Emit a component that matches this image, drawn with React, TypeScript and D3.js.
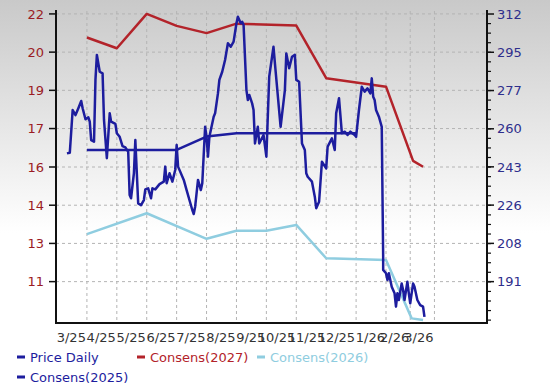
import React from "react";
import * as d3 from "d3";

const W = 550;
const H = 388;
const M = { left: 56, right: 487, top: 11, bottom: 323 };

// x axis: trading-day index (0 = first price point)
const xTickDays = [14, 35, 56, 77, 98, 119, 140, 161, 182, 203, 224, 241, 258];
const xTickLabels = ["3/25", "4/25", "5/25", "6/25", "7/25", "8/25", "9/25", "10/25", "11/25", "12/25", "1/26", "2/26", "3/26"];

// left axis (consensus EPS) and right axis (price)
const leftTicks = [22, 20.43, 18.86, 17.29, 15.71, 14.14, 12.57, 11];
const rightTicks = [312, 294.7, 277.4, 260.1, 242.9, 225.6, 208.3, 191];

const priceDays = [
  0, 2, 4, 6, 8, 10, 11, 13, 15, 16, 17, 19, 20, 21, 23, 25, 26, 28, 30, 31,
  34, 35, 37, 39, 41, 43, 44, 45, 47, 48, 50, 52, 54, 55, 57, 59, 60, 62, 65, 68,
  69, 70, 72, 74, 76, 77, 78, 82, 84, 88, 89, 90, 92, 94, 95, 97, 98, 99, 100, 103,
  104, 106, 107, 109, 111, 113, 115, 117, 119, 120, 122, 123, 124, 126, 127, 128, 130, 131, 132, 134,
  135, 138, 140, 142, 145, 146, 150, 153, 154, 156, 158, 160, 161, 163, 165, 167, 168, 169, 172, 174,
  175, 177, 179, 182, 183, 186, 188, 189, 191, 193, 195, 197, 199, 202, 203, 205, 207, 209, 211, 213,
  214, 215, 216, 217, 219, 220, 221, 222, 222, 224, 225, 226, 228, 230, 231, 232, 233, 235, 236, 237,
  239, 240, 241, 243, 244, 246, 248, 250, 251,
];
const priceValues = [
  249.0, 249.3, 268.6, 266.3, 269.4, 272.7, 269.4, 264.4, 265.3, 263.3, 255.0, 254.3, 282.2, 293.5, 285.9, 285.2, 264.1, 246.8, 267.1, 263.3,
  262.3, 258.1, 256.5, 252.3, 251.7, 249.7, 230.2, 228.7, 240.0, 255.0, 226.4, 225.6, 227.9, 232.7, 233.2, 228.7, 233.2, 232.7, 235.1, 236.2,
  243.0, 235.5, 240.0, 236.2, 241.5, 252.8, 243.0, 237.0, 232.4, 223.4, 221.6, 224.9, 237.0, 232.4, 235.5, 261.0, 256.5, 247.5, 256.5, 265.6,
  267.1, 276.1, 282.2, 285.9, 291.2, 298.8, 297.2, 299.5, 307.8, 310.8, 307.8, 308.5, 307.0, 277.6, 273.1, 275.4, 271.6, 268.6, 253.5, 261.0,
  253.5, 257.3, 247.5, 283.7, 297.2, 289.7, 261.0, 277.6, 294.2, 287.5, 292.7, 293.5, 282.2, 281.4, 253.5, 250.5, 240.0, 238.4, 236.2, 229.4,
  224.2, 227.1, 245.2, 242.2, 252.0, 255.8, 250.5, 267.1, 273.9, 258.1, 258.8, 257.3, 258.8, 257.3, 256.5, 268.6, 279.1, 276.9, 278.4, 276.1,
  282.9, 274.6, 273.1, 268.6, 265.6, 263.3, 261.0, 202.3, 196.3, 194.8, 191.7, 194.8, 188.7, 185.7, 179.7, 185.7, 182.7, 190.2, 187.2, 182.7,
  191.0, 185.7, 181.2, 190.2, 188.7, 182.7, 180.4, 179.7, 175.1,
];

const cons2027Days = [14, 35, 56, 77, 98, 119, 161, 182, 224, 243, 250];
const cons2027Values = [21.03, 20.59, 22.0, 21.51, 21.21, 21.6, 21.52, 19.36, 19.01, 15.96, 15.72];

const cons2026Days = [14, 56, 98, 119, 140, 161, 182, 224, 242, 250];
const cons2026Values = [12.95, 13.81, 12.76, 13.09, 13.09, 13.33, 11.96, 11.89, 9.49, 9.42];

const cons2025Days = [14, 77, 98, 119, 203];
const cons2025Values = [16.41, 16.41, 16.96, 17.1, 17.1];

const BLUE = "#1d1d9e";
const RED = "#b3232a";
const LIGHT = "#8fcde0";
const FONT = "DejaVu Sans";

type Pt = [number, number];
const zip = (a: number[], b: number[]): Pt[] => a.map((d, i) => [d, b[i]]);

export default function App() {
  const x = d3.scaleLinear().domain([-7.7, 294.9]).range([M.left, M.right]);
  const yL = d3.scaleLinear().domain([9.3, 22.12]).range([M.bottom, M.top]);
  const yR = d3.scaleLinear().domain([172.3, 313.36]).range([M.bottom, M.top]);

  const lineL = d3.line<Pt>().x((d) => x(d[0])).y((d) => yL(d[1]));
  const lineR = d3.line<Pt>().x((d) => x(d[0])).y((d) => yR(d[1]));

  const rStep = rightTicks[0] - rightTicks[1];
  const minor = d3.range(1, 40).map((i) => rightTicks[0] - (i * rStep) / 4).filter((v) => yR(v) < M.bottom - 1);
  const f0 = d3.format(".0f");

  const legend = [
    { label: "Price Daily", color: BLUE, lx: 17, ly: 357 },
    { label: "Consens(2027)", color: RED, lx: 137, ly: 357 },
    { label: "Consens(2026)", color: LIGHT, lx: 257, ly: 357 },
    { label: "Consens(2025)", color: BLUE, lx: 17, ly: 377 },
  ];

  return (
    <svg width={W} height={H} style={{ position: "absolute", left: 0, top: 0 }} fontFamily={FONT}>
      <defs>
        <linearGradient id="bg" x1="0" x2="0" y1="0" y2="1">
          <stop offset="0%" stopColor="#c9c9c9" />
          <stop offset="60%" stopColor="#ffffff" />
          <stop offset="100%" stopColor="#ffffff" />
        </linearGradient>
      </defs>
      <rect x={0} y={0} width={W} height={H} fill="url(#bg)" />

      {/* grid */}
      {leftTicks.map((v, i) => (
        <line key={"h" + i} x1={M.left} x2={M.right} y1={yL(v)} y2={yL(v)} stroke="#b4b4b4" strokeDasharray="3,3" />
      ))}
      {xTickDays.map((d, i) => (
        <line key={"v" + i} x1={x(d)} x2={x(d)} y1={M.top} y2={M.bottom} stroke="#b4b4b4" strokeDasharray="3,3" />
      ))}

      {/* consensus lines */}
      <path d={lineL(zip(cons2026Days, cons2026Values)) ?? ""} fill="none" stroke={LIGHT} strokeWidth={2.5} strokeLinejoin="round" />
      <path d={lineL(zip(cons2027Days, cons2027Values)) ?? ""} fill="none" stroke={RED} strokeWidth={2.5} strokeLinejoin="round" />
      <path d={lineL(zip(cons2025Days, cons2025Values)) ?? ""} fill="none" stroke={BLUE} strokeWidth={2.5} strokeLinejoin="round" />

      {/* price */}
      <path d={lineR(zip(priceDays, priceValues)) ?? ""} fill="none" stroke={BLUE} strokeWidth={2.5} strokeLinejoin="round" />

      {/* axes */}
      <line x1={M.left} x2={M.left} y1={M.top - 1} y2={M.bottom + 1} stroke="#111" strokeWidth={2} />
      <line x1={M.right} x2={M.right} y1={M.top - 1} y2={M.bottom + 1} stroke="#111" strokeWidth={2} />
      <line x1={M.left - 1} x2={M.right + 1} y1={M.bottom} y2={M.bottom} stroke="#111" strokeWidth={2} />

      {leftTicks.map((v, i) => (
        <g key={"lt" + i}>
          <line x1={M.left - 7} x2={M.left} y1={yL(v)} y2={yL(v)} stroke="#111" strokeWidth={1.5} />
          <text x={M.left - 12} y={yL(v)} dy="0.36em" textAnchor="end" fontSize={13} fill="#9b1c24">
            {f0(v)}
          </text>
        </g>
      ))}
      {minor.map((v, i) => (
        <line key={"mn" + i} x1={M.right} x2={M.right + 4} y1={yR(v)} y2={yR(v)} stroke="#111" strokeWidth={1.2} />
      ))}
      {rightTicks.map((v, i) => (
        <g key={"rt" + i}>
          <line x1={M.right} x2={M.right + 7} y1={yR(v)} y2={yR(v)} stroke="#111" strokeWidth={1.5} />
          <text x={M.right + 10} y={yR(v)} dy="0.36em" textAnchor="start" fontSize={13} fill="#2e2e8c">
            {f0(v)}
          </text>
        </g>
      ))}
      {xTickDays.map((d, i) => (
        <text key={"xt" + i} x={x(d) - 1} y={342} textAnchor="end" fontSize={13} fill="#333">
          {xTickLabels[i]}
        </text>
      ))}

      {/* legend */}
      {legend.map((l, i) => (
        <g key={"lg" + i}>
          <rect x={l.lx} y={l.ly - 1.5} width={8} height={3} fill={l.color} />
          <text x={l.lx + 13} y={l.ly} dy="0.36em" fontSize={13} fill={l.color}>
            {l.label}
          </text>
        </g>
      ))}
    </svg>
  );
}
